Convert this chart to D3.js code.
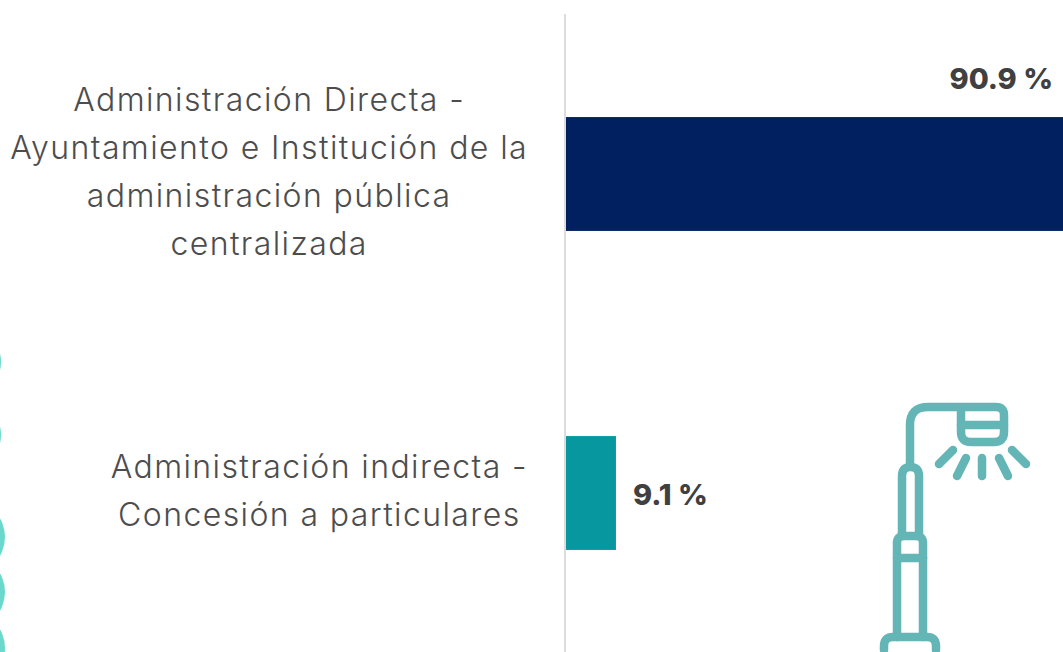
<!DOCTYPE html>
<html><head><meta charset="utf-8">
<script src="https://cdn.jsdelivr.net/npm/d3@7"></script>
<style>html,body{margin:0;padding:0;background:#fff;overflow:hidden}svg{display:block}
text{font-family:"Inter","Open Sans",sans-serif}</style></head>
<body><svg id="c" width="1063" height="652"></svg>
<script>
const categories = ["direct","indirect"];
const labelLines = [
  ["Administración Directa -","Ayuntamiento e Institución de la","administración pública","centralizada"],
  ["Administración indirecta -","Concesión a particulares"]
];
const values = [90.9, 9.1];
const valueLabels = ["90.9 %","9.1 %"];
const barColors = ["#00205f","#07989f"];
const dotRows = [362,435,537,592,648];
const dotOffsets = [-37,-37,-33,-33,-33];

const svg = d3.select("#c");
const x = d3.scaleLinear().domain([0,100]).range([566,1115]);
const y = d3.scaleBand().domain(categories).range([14.5,652.5]).paddingInner(0.643).paddingOuter(0.3215);

svg.append("g").selectAll("circle").data(dotRows).join("circle")
  .attr("cx",(d,i)=>dotOffsets[i]).attr("cy",d=>d).attr("r",38).attr("fill","#6bd8cc");

svg.append("line").attr("x1",565).attr("x2",565).attr("y1",14).attr("y2",652)
  .attr("stroke","#dcdcdc").attr("stroke-width",2);

svg.append("g").selectAll("rect").data(categories).join("rect")
  .attr("x",x(0)).attr("y",d=>y(d)).attr("height",y.bandwidth())
  .attr("width",(d,i)=>x(values[i])-x(0)).attr("fill",(d,i)=>barColors[i]);

// value labels
svg.append("text").attr("x",1053).attr("y",y("direct")-28).attr("text-anchor","end")
  .attr("font-size",29).attr("font-weight",800).attr("fill","#404040").text(valueLabels[0]);
svg.append("text").attr("x",x(values[1])+17).attr("y",y("indirect")+y.bandwidth()/2+12).attr("text-anchor","start")
  .attr("font-size",29).attr("font-weight",800).attr("fill","#404040").text(valueLabels[1]);

// category labels: centred lines in a block right-aligned at the axis
const lineH = 48;
categories.forEach((c,i)=>{
  const g = svg.append("g");
  const lines = labelLines[i];
  const cy = y(c)+y.bandwidth()/2;
  const ts = g.selectAll("text").data(lines).join("text")
    .attr("y",(d,k)=>cy+(k-(lines.length-1)/2)*lineH+9)
    .attr("font-size",32).attr("font-weight",300).attr("fill","#4d4d4d")
    .attr("letter-spacing",1.4)
    .attr("text-anchor","middle").text(d=>d);
  const w = d3.max(ts.nodes(),n=>n.getComputedTextLength());
  ts.attr("x",528-w/2);
});

// lamp icon
const icon = svg.append("g").attr("fill","none").attr("stroke","#64b5b5").attr("stroke-width",8.5).attr("stroke-linecap","round").attr("stroke-linejoin","round");
[
 "M910 465V425Q910 407 928 407H996Q1004 407 1004 415V432Q1004 442 994 442H971Q961 442 961 432V407",
 "M961 425H1004",
 "M902 535V476Q902 467 910.500 467Q919 467 919 476V535",
 "M897 637V543Q897 536 904 536H916Q923 536 923 543V637",
 "M897 558H923",
 "M884 650V646Q884 637 893 637H927Q936 637 936 646V650",
 "M939 464L953 450","M957 476L966 458","M982 476V458","M1008 476L999 458","M1026 464L1012 450"
].forEach(d=>icon.append("path").attr("d",d));
</script></body></html>
